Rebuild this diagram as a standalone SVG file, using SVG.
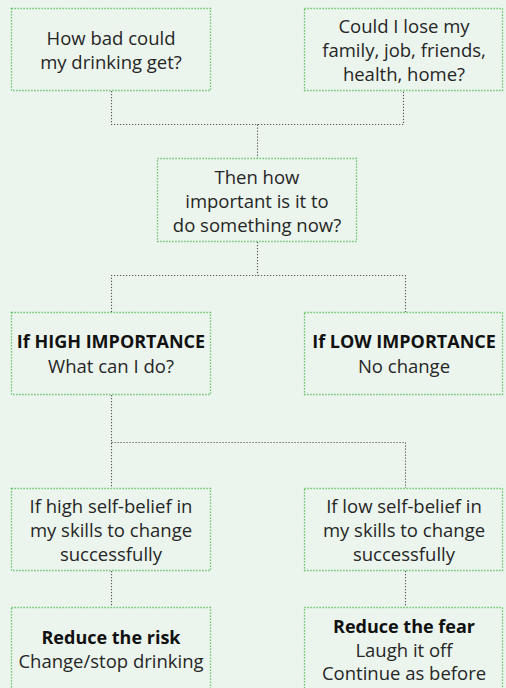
<svg xmlns="http://www.w3.org/2000/svg" width="506" height="688" viewBox="0 0 506 688">
<style>
.box{fill:none;stroke:#4cb84c;stroke-width:1.3;stroke-dasharray:1.2 1.8}
.con{fill:none;stroke:#555;stroke-width:1.1;stroke-dasharray:1.2 1.8}
text{font-family:"Open Sans","Liberation Sans",sans-serif;font-size:18.5px;fill:#262626;text-anchor:middle}
.b{font-weight:bold;fill:#111;font-size:18px}
</style>
<rect width="506" height="688" fill="#ebf5ed"/>
<g id="connectors">
<path class="con" d="M111.5 91V124.5H403.5V91M257.5 124.5V158"/>
<path class="con" d="M257.5 242V275.5M111.5 312V275.5H405.5V312"/>
<path class="con" d="M111.5 395V488M111.5 442.5H405.5V488"/>
<path class="con" d="M111.5 571V607M405.5 571V607"/>
</g>
<g id="n1"><rect class="box" x="11.5" y="8.5" width="199" height="82"/>
<text x="111" y="45">How bad could</text><text x="111" y="69">my drinking get?</text></g>
<g id="n2"><rect class="box" x="304.5" y="8.5" width="198" height="82"/>
<text x="404" y="33">Could I lose my</text><text x="404" y="57">family, job, friends,</text><text x="404" y="81">health, home?</text></g>
<g id="n3"><rect class="box" x="157.5" y="158.5" width="199" height="83"/>
<text x="257" y="184">Then how</text><text x="257" y="208">important is it to</text><text x="257" y="232">do something now?</text></g>
<g id="n4"><rect class="box" x="11.5" y="312.5" width="199" height="82"/>
<text class="b" x="111" y="348">If HIGH IMPORTANCE</text><text x="111" y="372.5">What can I do?</text></g>
<g id="n5"><rect class="box" x="304.5" y="312.5" width="198" height="82"/>
<text class="b" x="404" y="348">If LOW IMPORTANCE</text><text x="404" y="372.5">No change</text></g>
<g id="n6"><rect class="box" x="11.5" y="488.5" width="199" height="82"/>
<text x="111" y="512.5">If high self-belief in</text><text x="111" y="536.5">my skills to change</text><text x="111" y="560.5">successfully</text></g>
<g id="n7"><rect class="box" x="304.5" y="488.5" width="198" height="82"/>
<text x="404" y="512.5">If low self-belief in</text><text x="404" y="536.5">my skills to change</text><text x="404" y="560.5">successfully</text></g>
<g id="n8"><rect class="box" x="11.5" y="607.5" width="199" height="90"/>
<text class="b" x="111" y="644">Reduce the risk</text><text x="111" y="668">Change/stop drinking</text></g>
<g id="n9"><rect class="box" x="304.5" y="607.5" width="198" height="90"/>
<text class="b" x="404" y="632.5">Reduce the fear</text><text x="404" y="656.5">Laugh it off</text><text x="404" y="680">Continue as before</text></g>
</svg>
